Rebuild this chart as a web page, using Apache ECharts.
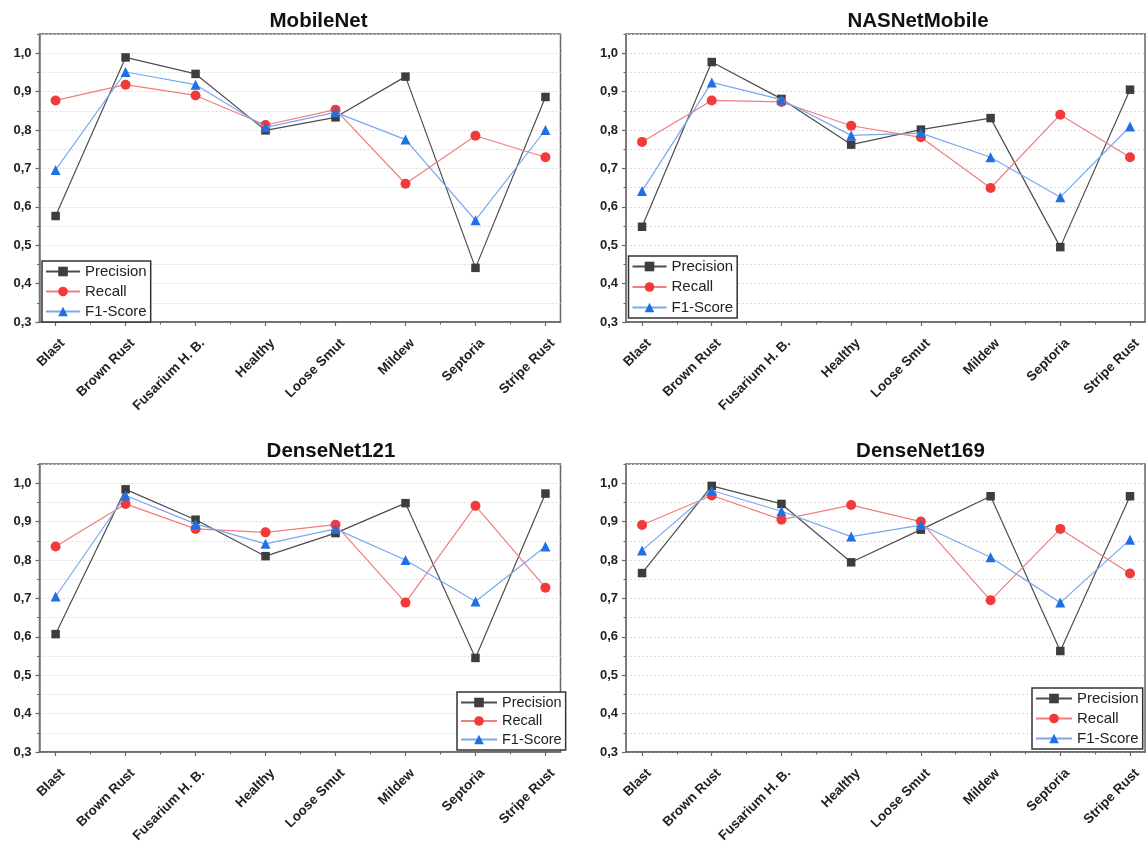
<!DOCTYPE html>
<html>
<head>
<meta charset="utf-8">
<script src="https://cdn.jsdelivr.net/npm/echarts@6/dist/echarts.min.js"></script>
<style>html,body{margin:0;padding:0;background:#fff}#c{width:1147px;height:841px}</style>
</head>
<body>
<div id="c"></div>
<script>
const categories = ['Blast','Brown Rust','Fusarium H. B.','Healthy','Loose Smut','Mildew','Septoria','Stripe Rust'];
const metrics = ['Precision','Recall','F1-Score'];
const yTicks = [0.3,0.4,0.5,0.6,0.7,0.8,0.9,1.0];
const models = ['MobileNet','NASNetMobile','DenseNet121','DenseNet169'];

const mobilenetPrecision = [0.576,0.989,0.946,0.799,0.833,0.939,0.441,0.886];
const mobilenetRecall    = [0.877,0.918,0.890,0.813,0.853,0.660,0.785,0.729];
const mobilenetF1        = [0.696,0.951,0.918,0.807,0.846,0.775,0.565,0.800];

const nasnetPrecision = [0.548,0.977,0.881,0.762,0.801,0.831,0.495,0.905];
const nasnetRecall    = [0.769,0.877,0.873,0.811,0.781,0.649,0.840,0.729];
const nasnetF1        = [0.641,0.924,0.879,0.786,0.792,0.729,0.625,0.809];

const dense121Precision = [0.607,0.984,0.905,0.810,0.870,0.948,0.545,0.973];
const dense121Recall    = [0.835,0.946,0.881,0.872,0.892,0.689,0.941,0.728];
const dense121F1        = [0.705,0.968,0.894,0.842,0.881,0.800,0.692,0.835];

const dense169Precision = [0.766,0.993,0.946,0.794,0.879,0.966,0.563,0.966];
const dense169Recall    = [0.891,0.968,0.905,0.943,0.900,0.695,0.881,0.765];
const dense169F1        = [0.825,0.981,0.927,0.861,0.891,0.807,0.689,0.853];

const panelData = [
  [mobilenetPrecision, mobilenetRecall, mobilenetF1],
  [nasnetPrecision, nasnetRecall, nasnetF1],
  [dense121Precision, dense121Recall, dense121F1],
  [dense169Precision, dense169Recall, dense169F1]
];

const FONT = '"Liberation Sans", Arial, Helvetica, sans-serif';
const grids = [
  {left:39.5, top:34, width:521, height:288},
  {left:626, top:34, width:519, height:288},
  {left:39.5, top:464, width:521, height:288},
  {left:626, top:464, width:519, height:288}
];
const titlePos = [[318.5,21.5],[918,21.5],[331,451],[920.5,451]];
const legendPos = [
  {left:42, top:261, itemGap:5, fs:15, iw:34},
  {left:628.5, top:256, itemGap:5.5, fs:15, iw:34},
  {left:457, top:692, itemGap:3.5, fs:14.5, iw:36},
  {left:1032, top:688, itemGap:5, fs:15, iw:36}
];
const styles = [
  {symbol:'rect', size:8.5, mark:'#3d3d3d', line:'#4d4d4d'},
  {symbol:'circle', size:10, mark:'#f23a3a', line:'#f27d7d'},
  {symbol:'triangle', size:10, mark:'#1f6fe5', line:'#79a8ef'}
];
const catIdx = categories.map((c,i)=>i);
const halfIdx = categories.slice(0,-1).map((c,i)=>i+0.5);
const XMIN = -0.23, XMAX = 7.215, YMIN = 0.3, YMAX = 1.05;

const xAxis = [], yAxis = [], series = [], legend = [], graphic = [];
grids.forEach((g,p)=>{
  xAxis.push({
    type:'value', gridIndex:p, min:XMIN, max:XMAX, position:'bottom',
    axisLine:{show:true, onZero:false, lineStyle:{color:'#666', width:1.5}},
    axisTick:{show:true, customValues:catIdx, length:4, lineStyle:{color:'#666', width:1.2}},
    axisLabel:{show:true, customValues:catIdx, rotate:45, margin:12,
      verticalAlign:'top', lineHeight:20,
      formatter:(v)=>categories[Math.round(v)],
      fontFamily:FONT, fontWeight:'bold', fontSize:13.5, color:'#222'},
    splitLine:{show:false}
  });
  xAxis.push({
    type:'value', gridIndex:p, min:XMIN, max:XMAX, position:'bottom',
    axisLine:{show:false, onZero:false},
    axisTick:{show:true, customValues:halfIdx, length:2.5, lineStyle:{color:'#666', width:1}},
    axisLabel:{show:false}, splitLine:{show:false}
  });
  yAxis.push({
    type:'value', gridIndex:p, min:YMIN, max:YMAX, interval:0.05, position:'left',
    axisLine:{show:true, onZero:false, lineStyle:{color:'#777', width:1.5}},
    axisTick:{show:true, length:2.5, lineStyle:{color:'#666', width:1}},
    axisLabel:{show:true, customValues:yTicks, margin:8,
      formatter:(v)=>v.toFixed(1).replace('.',','),
      fontFamily:FONT, fontWeight:'bold', fontSize:13, color:'#222'},
    splitLine:{show:true, lineStyle:{color:'#dcdcdc', type:[2,2], width:1}}
  });
  yAxis.push({
    type:'value', gridIndex:p, min:YMIN, max:YMAX, position:'left',
    axisLine:{show:false, onZero:false},
    axisTick:{show:true, customValues:yTicks, length:4, lineStyle:{color:'#666', width:1.2}},
    axisLabel:{show:false}, splitLine:{show:false}
  });
  metrics.forEach((m,k)=>{
    const s = styles[k];
    series.push({
      type:'line', name:m, xAxisIndex:2*p, yAxisIndex:2*p,
      data: panelData[p][k].map((v,i)=>[i,v]),
      symbol:s.symbol, symbolSize:s.size, showSymbol:true,
      itemStyle:{color:s.mark},
      lineStyle:{color:s.line, width:1.2},
      z: 3+k, animation:false
    });
  });
  const lp = legendPos[p];
  legend.push({
    orient:'vertical', left:lp.left, top:lp.top,
    itemWidth:lp.iw, itemHeight:12, itemGap:lp.itemGap,
    padding:[3,4,3,3], borderColor:'#333', borderWidth:1.5, backgroundColor:'#fff',
    textStyle:{fontFamily:FONT, fontSize:lp.fs, color:'#222', lineHeight:15},
    data:metrics, selectedMode:false, z:10
  });
  graphic.push({
    type:'text', x:titlePos[p][0], y:titlePos[p][1], z:10,
    style:{text:models[p], fontFamily:FONT, fontWeight:'bold', fontSize:20.5,
      fill:'#111', align:'center', verticalAlign:'middle'}
  });
});

const chart = echarts.init(document.getElementById('c'), null, {renderer:'canvas'});
chart.setOption({
  animation:false,
  backgroundColor:'#fff',
  grid: grids.map(g=>Object.assign({show:true, borderColor:'#666', borderWidth:1.5, backgroundColor:'transparent', containLabel:false, outerBoundsMode:'none'}, g)),
  xAxis, yAxis, series, legend, graphic
});
</script>
</body>
</html>
